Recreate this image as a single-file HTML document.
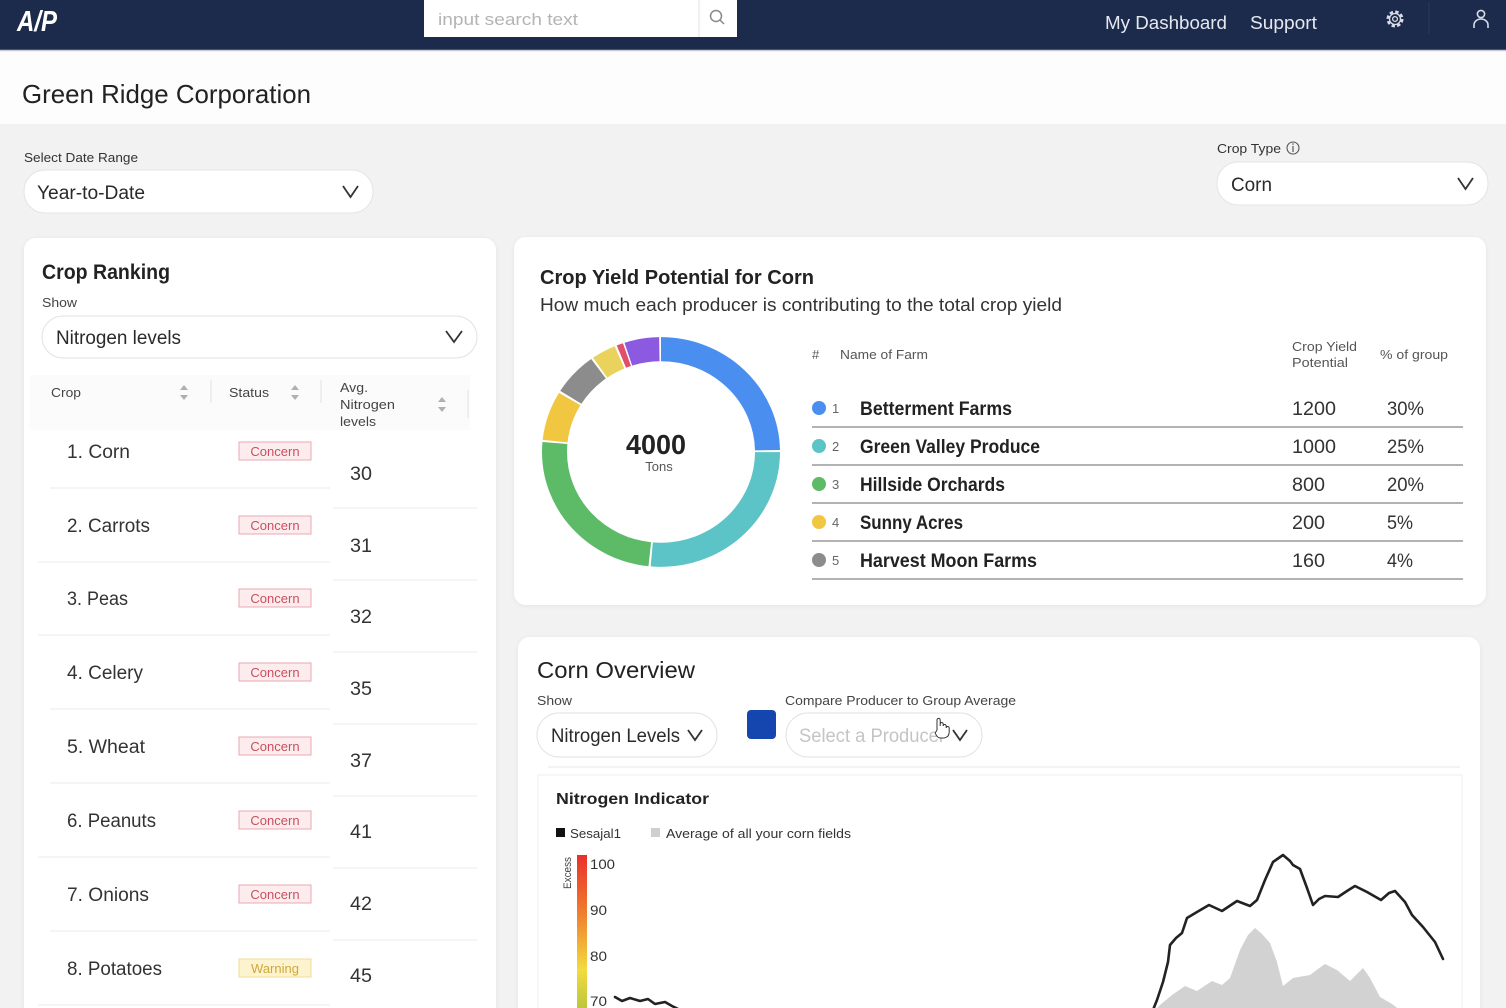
<!DOCTYPE html>
<html><head><meta charset="utf-8"><style>
html,body{margin:0;padding:0;background:#f2f2f2;}
svg{display:block;font-family:"Liberation Sans",sans-serif;}
</style></head><body>
<svg width="1506" height="1008" viewBox="0 0 1506 1008" xmlns="http://www.w3.org/2000/svg">
<defs>
<linearGradient id="grad" x1="0" y1="0" x2="0" y2="1">
<stop offset="0" stop-color="#e8302a"/>
<stop offset="0.35" stop-color="#f07a2e"/>
<stop offset="0.72" stop-color="#f2dc3e"/>
<stop offset="1" stop-color="#b2c23e"/>
</linearGradient>
<filter id="sh" x="-5%" y="-5%" width="110%" height="110%"><feDropShadow dx="0" dy="1" stdDeviation="2" flood-color="#000" flood-opacity="0.06"/></filter>
</defs>
<!-- background -->
<rect x="0" y="0" width="1506" height="1008" fill="#f2f2f2"/>
<rect x="0" y="50" width="1506" height="74" fill="#fdfdfd"/>
<!-- header -->
<rect x="0" y="0" width="1506" height="50" fill="#1c2b4b"/>
<line x1="0" y1="50.5" x2="1506" y2="50.5" stroke="#c9cad8" stroke-width="1.5"/>
<text x="17" y="31" font-size="29" font-weight="bold" font-style="italic" fill="#fff" textLength="40" lengthAdjust="spacingAndGlyphs">A/P</text>
<rect x="424" y="0" width="313" height="37" fill="#fff"/>
<line x1="699" y1="0" x2="699" y2="37" stroke="#e2e2e2"/>
<text x="438" y="25" font-size="17" fill="#b4b4b4" textLength="140" lengthAdjust="spacingAndGlyphs">input search text</text>
<circle cx="716" cy="16" r="5.5" fill="none" stroke="#888" stroke-width="1.5"/>
<line x1="720" y1="20" x2="724" y2="24" stroke="#888" stroke-width="1.5"/>
<text x="1105" y="29" font-size="18" fill="#e6e8f0" textLength="122" lengthAdjust="spacingAndGlyphs">My Dashboard</text>
<text x="1250" y="29" font-size="18" fill="#e6e8f0" textLength="67" lengthAdjust="spacingAndGlyphs">Support</text>
<circle cx="1395" cy="19" r="7" fill="none" stroke="#d8dbe6" stroke-width="3" stroke-dasharray="3.3 2.2"/>
<circle cx="1395" cy="19" r="5.5" fill="none" stroke="#d8dbe6" stroke-width="1.3"/>
<circle cx="1395" cy="19" r="2.4" fill="none" stroke="#d8dbe6" stroke-width="1.3"/>
<line x1="1429" y1="2" x2="1429" y2="34" stroke="#2a3a5a" stroke-width="1"/>
<circle cx="1481" cy="14" r="3.6" fill="none" stroke="#d8dbe6" stroke-width="1.6"/>
<path d="M1474 28 v-3 a7 6 0 0 1 14 0 v3" fill="none" stroke="#d8dbe6" stroke-width="1.6"/>
<!-- title -->
<text x="22" y="103" font-size="26" fill="#222" textLength="289" lengthAdjust="spacingAndGlyphs">Green Ridge Corporation</text>
<!-- date range -->
<text x="24" y="162" font-size="13" fill="#333" textLength="114" lengthAdjust="spacingAndGlyphs">Select Date Range</text>
<rect x="24" y="170" width="349" height="43" rx="21" fill="#fff" stroke="#e4e4e4"/>
<text x="37" y="199" font-size="19" fill="#2a2a2a" textLength="108" lengthAdjust="spacingAndGlyphs">Year-to-Date</text>
<polyline points="343,186 350.5,197 358,186" fill="none" stroke="#333" stroke-width="1.8"/>
<!-- crop type -->
<text x="1217" y="153" font-size="13" fill="#333" textLength="64" lengthAdjust="spacingAndGlyphs">Crop Type</text>
<circle cx="1293" cy="148" r="6" fill="none" stroke="#555" stroke-width="1.1"/>
<line x1="1293" y1="146" x2="1293" y2="152" stroke="#555" stroke-width="1.2"/>
<circle cx="1293" cy="144" r="0.8" fill="#555"/>
<rect x="1217" y="162" width="271" height="43" rx="21" fill="#fff" stroke="#e4e4e4"/>
<text x="1231" y="191" font-size="19" fill="#2a2a2a" textLength="41" lengthAdjust="spacingAndGlyphs">Corn</text>
<polyline points="1458,178 1465.5,189 1473,178" fill="none" stroke="#333" stroke-width="1.8"/>

<!-- LEFT CARD -->
<rect x="24" y="238" width="472" height="800" rx="12" fill="#fff" filter="url(#sh)"/>
<text x="42" y="279" font-size="21" font-weight="bold" fill="#222" textLength="128" lengthAdjust="spacingAndGlyphs">Crop Ranking</text>
<text x="42" y="307" font-size="13" fill="#444" textLength="35" lengthAdjust="spacingAndGlyphs">Show</text>
<rect x="42" y="316" width="435" height="42" rx="21" fill="#fff" stroke="#e2e2e2"/>
<text x="56" y="344" font-size="19" fill="#2a2a2a" textLength="125" lengthAdjust="spacingAndGlyphs">Nitrogen levels</text>
<polyline points="446,331 454,342 462,331" fill="none" stroke="#333" stroke-width="1.8"/>
<rect x="30" y="375" width="440" height="55" fill="#fbfbfb"/>
<text x="51" y="397" font-size="13" fill="#444" textLength="30" lengthAdjust="spacingAndGlyphs">Crop</text>
<path d="M180 390 l4 -5 l4 5z M180 395 l4 5 l4 -5z" fill="#b0b0b0"/>
<line x1="211" y1="380" x2="211" y2="403" stroke="#e0e0e0"/>
<text x="229" y="397" font-size="13" fill="#444" textLength="40" lengthAdjust="spacingAndGlyphs">Status</text>
<path d="M291 390 l4 -5 l4 5z M291 395 l4 5 l4 -5z" fill="#b0b0b0"/>
<line x1="321" y1="380" x2="321" y2="403" stroke="#e0e0e0"/>
<text x="340" y="392" font-size="13" fill="#444" textLength="28" lengthAdjust="spacingAndGlyphs">Avg.</text>
<text x="340" y="409" font-size="13" fill="#444" textLength="55" lengthAdjust="spacingAndGlyphs">Nitrogen</text>
<text x="340" y="426" font-size="13" fill="#444" textLength="36" lengthAdjust="spacingAndGlyphs">levels</text>
<path d="M438 402 l4 -5 l4 5z M438 407 l4 5 l4 -5z" fill="#b0b0b0"/>
<line x1="468" y1="390" x2="468" y2="418" stroke="#e0e0e0"/>
<g stroke="#efefef" stroke-width="1.2">
<line x1="50" y1="488" x2="330" y2="488"/><line x1="38" y1="562" x2="330" y2="562"/>
<line x1="38" y1="635" x2="330" y2="635"/><line x1="50" y1="709" x2="330" y2="709"/>
<line x1="50" y1="783" x2="330" y2="783"/><line x1="38" y1="857" x2="330" y2="857"/>
<line x1="50" y1="931" x2="330" y2="931"/><line x1="38" y1="1005" x2="330" y2="1005"/>
<line x1="333" y1="508" x2="477" y2="508"/><line x1="333" y1="580" x2="477" y2="580"/>
<line x1="333" y1="652" x2="477" y2="652"/><line x1="333" y1="724" x2="477" y2="724"/>
<line x1="333" y1="796" x2="477" y2="796"/><line x1="333" y1="868" x2="477" y2="868"/>
<line x1="333" y1="940" x2="477" y2="940"/>
</g>
<g font-size="19" fill="#333">
<text x="67" y="458" textLength="63" lengthAdjust="spacingAndGlyphs">1. Corn</text>
<text x="67" y="532" textLength="83" lengthAdjust="spacingAndGlyphs">2. Carrots</text>
<text x="67" y="605" textLength="61" lengthAdjust="spacingAndGlyphs">3. Peas</text>
<text x="67" y="679" textLength="76" lengthAdjust="spacingAndGlyphs">4. Celery</text>
<text x="67" y="753" textLength="78" lengthAdjust="spacingAndGlyphs">5. Wheat</text>
<text x="67" y="827" textLength="89" lengthAdjust="spacingAndGlyphs">6. Peanuts</text>
<text x="67" y="901" textLength="82" lengthAdjust="spacingAndGlyphs">7. Onions</text>
<text x="67" y="975" textLength="95" lengthAdjust="spacingAndGlyphs">8. Potatoes</text>
<text x="350" y="480" textLength="22" lengthAdjust="spacingAndGlyphs">30</text>
<text x="350" y="552" textLength="22" lengthAdjust="spacingAndGlyphs">31</text>
<text x="350" y="623" textLength="22" lengthAdjust="spacingAndGlyphs">32</text>
<text x="350" y="695" textLength="22" lengthAdjust="spacingAndGlyphs">35</text>
<text x="350" y="767" textLength="22" lengthAdjust="spacingAndGlyphs">37</text>
<text x="350" y="838" textLength="22" lengthAdjust="spacingAndGlyphs">41</text>
<text x="350" y="910" textLength="22" lengthAdjust="spacingAndGlyphs">42</text>
<text x="350" y="982" textLength="22" lengthAdjust="spacingAndGlyphs">45</text>
</g>
<g font-size="13" text-anchor="middle">
<rect x="239" y="442" width="72" height="18" fill="#fcecee" stroke="#eaa8b0"/><text x="275" y="456" fill="#c8505e">Concern</text>
<rect x="239" y="516" width="72" height="18" fill="#fcecee" stroke="#eaa8b0"/><text x="275" y="530" fill="#c8505e">Concern</text>
<rect x="239" y="589" width="72" height="18" fill="#fcecee" stroke="#eaa8b0"/><text x="275" y="603" fill="#c8505e">Concern</text>
<rect x="239" y="663" width="72" height="18" fill="#fcecee" stroke="#eaa8b0"/><text x="275" y="677" fill="#c8505e">Concern</text>
<rect x="239" y="737" width="72" height="18" fill="#fcecee" stroke="#eaa8b0"/><text x="275" y="751" fill="#c8505e">Concern</text>
<rect x="239" y="811" width="72" height="18" fill="#fcecee" stroke="#eaa8b0"/><text x="275" y="825" fill="#c8505e">Concern</text>
<rect x="239" y="885" width="72" height="18" fill="#fcecee" stroke="#eaa8b0"/><text x="275" y="899" fill="#c8505e">Concern</text>
<rect x="239" y="959" width="72" height="18" fill="#fdf3cf" stroke="#f0dc98"/><text x="275" y="973" fill="#cfa838">Warning</text>
</g>

<!-- TOP RIGHT CARD -->
<rect x="514" y="237" width="972" height="368" rx="12" fill="#fff" filter="url(#sh)"/>
<text x="540" y="284" font-size="20" font-weight="bold" fill="#222" textLength="274" lengthAdjust="spacingAndGlyphs">Crop Yield Potential for Corn</text>
<text x="540" y="311" font-size="18" fill="#333" textLength="522" lengthAdjust="spacingAndGlyphs">How much each producer is contributing to the total crop yield</text>
<g transform="translate(661,452) scale(1,0.965) rotate(-90)" fill="none" stroke-width="25">
<circle r="106.5" stroke="#4a8ff0" stroke-dasharray="165.3 700" stroke-dashoffset="0"/>
<circle r="106.5" stroke="#5cc3c6" stroke-dasharray="176.4 700" stroke-dashoffset="-167.3"/>
<circle r="106.5" stroke="#5dbb68" stroke-dasharray="165.3 700" stroke-dashoffset="-345.7"/>
<circle r="106.5" stroke="#f1c640" stroke-dasharray="46.3 700" stroke-dashoffset="-513.0"/>
<circle r="106.5" stroke="#8c8c8c" stroke-dasharray="40.75 700" stroke-dashoffset="-561.4"/>
<circle r="106.5" stroke="#e9d35c" stroke-dasharray="22.2 700" stroke-dashoffset="-604.1"/>
<circle r="106.5" stroke="#e0506a" stroke-dasharray="5.9 700" stroke-dashoffset="-628.3"/>
<circle r="106.5" stroke="#8b5ae0" stroke-dasharray="31.5 700" stroke-dashoffset="-635.7"/>
</g>
<text x="656" y="454" font-size="28" font-weight="bold" fill="#222" text-anchor="middle" textLength="60" lengthAdjust="spacingAndGlyphs">4000</text>
<text x="659" y="471" font-size="13" fill="#555" text-anchor="middle">Tons</text>
<g font-size="13" fill="#555">
<text x="812" y="359">#</text>
<text x="840" y="359" textLength="88" lengthAdjust="spacingAndGlyphs">Name of Farm</text>
<text x="1292" y="351" textLength="65" lengthAdjust="spacingAndGlyphs">Crop Yield</text>
<text x="1292" y="367" textLength="56" lengthAdjust="spacingAndGlyphs">Potential</text>
<text x="1380" y="359" textLength="68" lengthAdjust="spacingAndGlyphs">% of group</text>
</g>
<g stroke="#999" stroke-width="1.6">
<line x1="812" y1="427" x2="1463" y2="427"/><line x1="812" y1="465" x2="1463" y2="465"/>
<line x1="812" y1="503" x2="1463" y2="503"/><line x1="812" y1="541" x2="1463" y2="541"/>
<line x1="812" y1="579" x2="1463" y2="579"/>
</g>
<circle cx="819" cy="408" r="7" fill="#4a8ff0"/>
<circle cx="819" cy="446" r="7" fill="#5cc3c6"/>
<circle cx="819" cy="484" r="7" fill="#5dbb68"/>
<circle cx="819" cy="522" r="7" fill="#f1c640"/>
<circle cx="819" cy="560" r="7" fill="#8c8c8c"/>
<g font-size="13" fill="#666">
<text x="832" y="413">1</text><text x="832" y="451">2</text><text x="832" y="489">3</text><text x="832" y="527">4</text><text x="832" y="565">5</text>
</g>
<g font-size="19" font-weight="bold" fill="#222">
<text x="860" y="415" textLength="152" lengthAdjust="spacingAndGlyphs">Betterment Farms</text>
<text x="860" y="453" textLength="180" lengthAdjust="spacingAndGlyphs">Green Valley Produce</text>
<text x="860" y="491" textLength="145" lengthAdjust="spacingAndGlyphs">Hillside Orchards</text>
<text x="860" y="529" textLength="103" lengthAdjust="spacingAndGlyphs">Sunny Acres</text>
<text x="860" y="567" textLength="177" lengthAdjust="spacingAndGlyphs">Harvest Moon Farms</text>
</g>
<g font-size="19" fill="#333">
<text x="1292" y="415" textLength="44" lengthAdjust="spacingAndGlyphs">1200</text>
<text x="1292" y="453" textLength="44" lengthAdjust="spacingAndGlyphs">1000</text>
<text x="1292" y="491" textLength="33" lengthAdjust="spacingAndGlyphs">800</text>
<text x="1292" y="529" textLength="33" lengthAdjust="spacingAndGlyphs">200</text>
<text x="1292" y="567" textLength="33" lengthAdjust="spacingAndGlyphs">160</text>
<text x="1387" y="415" textLength="37" lengthAdjust="spacingAndGlyphs">30%</text>
<text x="1387" y="453" textLength="37" lengthAdjust="spacingAndGlyphs">25%</text>
<text x="1387" y="491" textLength="37" lengthAdjust="spacingAndGlyphs">20%</text>
<text x="1387" y="529" textLength="26" lengthAdjust="spacingAndGlyphs">5%</text>
<text x="1387" y="567" textLength="26" lengthAdjust="spacingAndGlyphs">4%</text>
</g>

<!-- CORN OVERVIEW CARD -->
<rect x="518" y="637" width="962" height="400" rx="12" fill="#fff" filter="url(#sh)"/>
<text x="537" y="678" font-size="23" fill="#222" textLength="158" lengthAdjust="spacingAndGlyphs">Corn Overview</text>
<text x="537" y="705" font-size="13" fill="#444" textLength="35" lengthAdjust="spacingAndGlyphs">Show</text>
<rect x="537" y="713" width="180" height="44" rx="22" fill="#fff" stroke="#e2e2e2"/>
<text x="551" y="742" font-size="19" fill="#2a2a2a" textLength="129" lengthAdjust="spacingAndGlyphs">Nitrogen Levels</text>
<polyline points="688,730 695,740 702,730" fill="none" stroke="#333" stroke-width="1.8"/>
<rect x="747" y="710" width="29" height="29" rx="4" fill="#1546b0"/>
<text x="785" y="705" font-size="13" fill="#444" textLength="231" lengthAdjust="spacingAndGlyphs">Compare Producer to Group Average</text>
<rect x="786" y="713" width="196" height="44" rx="22" fill="#fff" stroke="#e2e2e2"/>
<text x="799" y="742" font-size="19" fill="#c4c4c4" textLength="146" lengthAdjust="spacingAndGlyphs">Select a Producer</text>
<polyline points="953,730 960,740 967,730" fill="none" stroke="#333" stroke-width="1.8"/>
<path d="M937 730 v-10 a1.6 1.6 0 0 1 3.2 0 v6 l0 -2 a1.5 1.5 0 0 1 3 0 v2 a1.5 1.5 0 0 1 3 0 v2 a1.5 1.5 0 0 1 3 0 v4 q0 5 -5 6 h-4 q-3 0 -5 -5z" fill="#fff" stroke="#333" stroke-width="1"/>
<line x1="548" y1="767" x2="1460" y2="767" stroke="#efefef" stroke-width="1.5"/>
<rect x="538" y="775" width="924" height="260" fill="#fff" stroke="#efefef"/>
<text x="556" y="804" font-size="16" font-weight="bold" fill="#222" textLength="153" lengthAdjust="spacingAndGlyphs">Nitrogen Indicator</text>
<rect x="556" y="828" width="9" height="9" fill="#111"/>
<text x="570" y="838" font-size="13" fill="#333" textLength="51" lengthAdjust="spacingAndGlyphs">Sesajal1</text>
<rect x="651" y="828" width="9" height="9" fill="#cfcfcf"/>
<text x="666" y="838" font-size="13" fill="#333" textLength="185" lengthAdjust="spacingAndGlyphs">Average of all your corn fields</text>
<rect x="577" y="855" width="10" height="160" fill="url(#grad)"/>
<text transform="translate(571,873) rotate(-90)" font-size="11" fill="#444" text-anchor="middle" textLength="32" lengthAdjust="spacingAndGlyphs">Excess</text>
<g font-size="14" fill="#333">
<text x="590" y="869" textLength="25" lengthAdjust="spacingAndGlyphs">100</text>
<text x="590" y="915" textLength="17" lengthAdjust="spacingAndGlyphs">90</text>
<text x="590" y="961" textLength="17" lengthAdjust="spacingAndGlyphs">80</text>
<text x="590" y="1006" textLength="17" lengthAdjust="spacingAndGlyphs">70</text>
</g>
<polygon points="1155,1010 1160,1005 1172,995 1185,986 1197,991 1212,981 1222,985 1230,978 1240,950 1248,935 1255,928 1262,934 1270,943 1277,962 1283,986 1293,978 1310,975 1318,969 1325,964 1337,970 1350,981 1363,968 1370,978 1380,997 1392,1004 1400,1010" fill="#d2d2d2"/>
<polyline points="615,997 622,1001 630,998 640,1001 648,999 655,1004 665,1002 672,1006 680,1010" fill="none" stroke="#222" stroke-width="2.6" stroke-linejoin="round" stroke-linecap="round"/>
<polyline points="1153,1010 1157,1000 1163,982 1168,962 1170,945 1176,938 1182,933 1187,918 1197,912 1209,905 1222,911 1237,901 1250,906 1257,900 1265,880 1273,862 1283,855 1290,861 1293,865 1300,869 1307,888 1313,905 1319,899 1325,896 1338,897 1347,891 1355,886 1367,892 1381,900 1389,893 1395,891 1405,902 1412,915 1423,927 1435,942 1443,959" fill="none" stroke="#222" stroke-width="2.6" stroke-linejoin="round" stroke-linecap="round"/>
</svg>
</body></html>
